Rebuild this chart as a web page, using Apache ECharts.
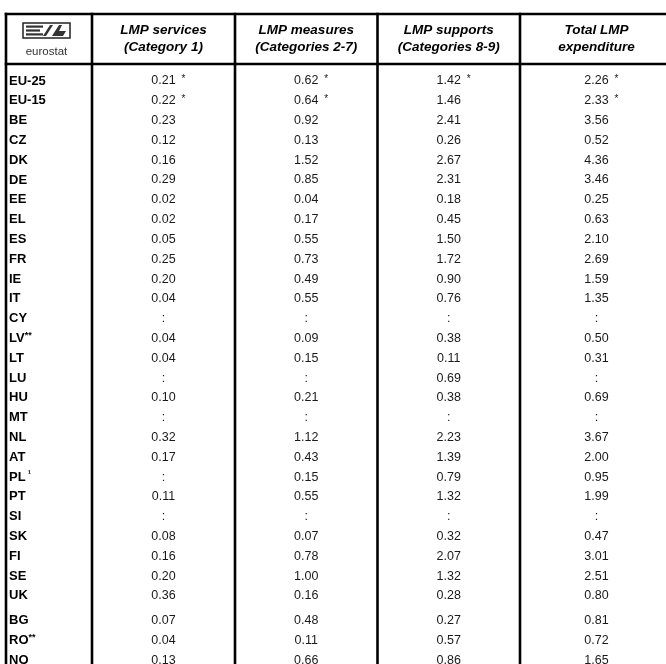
<!DOCTYPE html>
<html><head><meta charset="utf-8">
<script src="https://cdn.jsdelivr.net/npm/echarts@6/dist/echarts.min.js"></script>
<style>html,body{margin:0;padding:0;background:#fff}#c{width:666px;height:664px}</style>
</head><body><div id="c"></div>
<script>
// ---------- DATA ----------
const headers = ['', 'LMP services\n(Category 1)', 'LMP measures\n(Categories 2-7)', 'LMP supports\n(Categories 8-9)', 'Total LMP\nexpenditure'];
const countries = ['EU-25','EU-15','BE','CZ','DK','DE','EE','EL','ES','FR','IE','IT','CY','LV**','LT','LU','HU','MT','NL','AT','PL ¹','PT','SI','SK','FI','SE','UK','BG','RO**','NO'];
const services = [0.21,0.22,0.23,0.12,0.16,0.29,0.02,0.02,0.05,0.25,0.20,0.04,null,0.04,0.04,null,0.10,null,0.32,0.17,null,0.11,null,0.08,0.16,0.20,0.36,0.07,0.04,0.13];
const measures = [0.62,0.64,0.92,0.13,1.52,0.85,0.04,0.17,0.55,0.73,0.49,0.55,null,0.09,0.15,null,0.21,null,1.12,0.43,0.15,0.55,null,0.07,0.78,1.00,0.16,0.48,0.11,0.66];
const supports = [1.42,1.46,2.41,0.26,2.67,2.31,0.18,0.45,1.50,1.72,0.90,0.76,null,0.38,0.11,0.69,0.38,null,2.23,1.39,0.79,1.32,null,0.32,2.07,1.32,0.28,0.27,0.57,0.86];
const total = [2.26,2.33,3.56,0.52,4.36,3.46,0.25,0.63,2.10,2.69,1.59,1.35,null,0.50,0.31,null,0.69,null,3.67,2.00,0.95,1.99,null,0.47,3.01,2.51,0.80,0.81,0.72,1.65];
const servicesStar = ['EU-25','EU-15'];
const measuresStar = ['EU-25','EU-15'];
const supportsStar = ['EU-25'];
const totalStar = ['EU-25','EU-15'];
const missingMark = ':';
const groupBreakBefore = 'BG';

// ---------- LAYOUT ----------
const colWidths = [86, 143, 142.5, 142.5, 153];
const edges = [0];
colWidths.forEach(w => edges.push(edges[edges.length - 1] + w));
const headerRows = 2.525;
const firstRowOffset = 0.86;
const breakGap = 0.25;
const yMax = 30.3;
const FONT = "'Liberation Sans', Arial, Helvetica, sans-serif";

const breakIdx = countries.indexOf(groupBreakBefore);
const rowPos = countries.map((c, i) => i + firstRowOffset + (i >= breakIdx ? breakGap : 0));
const colCenter = c => (edges[c] + edges[c + 1]) / 2;

const columns = [services, measures, supports, total];
const stars = [servicesStar, measuresStar, supportsStar, totalStar];

const cells = [];
countries.forEach((name, r) => {
  cells.push({ col: 0, row: r, text: name, value: [3, rowPos[r]] });
  columns.forEach((arr, k) => {
    const v = arr[r];
    cells.push({
      col: k + 1, row: r,
      text: v == null ? missingMark : v.toFixed(2),
      star: stars[k].indexOf(name) >= 0,
      value: [colCenter(k + 1), rowPos[r]]
    });
  });
});

const headerCells = headers.map((h, c) => ({ col: c, text: h, value: [colCenter(c), -headerRows / 2] }));
const vLines = edges.slice(0, 5).map(e => ({ kind: 'v', value: [e, 0] }));
const hLines = [-headerRows, 0].map(y => ({ kind: 'h', value: [0, y] }));

function renderBody(params, api) {
  const cell = cells[params.dataIndex];
  const p = api.coord([api.value(0), api.value(1)]);
  if (cell.col === 0) {
    const m = cell.text.match(/^([A-Z0-9-]+)(.*)$/);
    const main = m[1], rest = m[2];
    const txt = rest ? '{b|' + main + '}{s|' + rest + '}' : '{b|' + main + '}';
    return {
      type: 'text', x: p[0], y: p[1],
      style: {
        text: txt, align: 'left', verticalAlign: 'middle', fill: '#000',
        rich: {
          b: { fontFamily: FONT, fontWeight: 'bold', fontSize: 13, fill: '#000', lineHeight: 15 },
          s: { fontFamily: FONT, fontWeight: 'bold', fontSize: 9, fill: '#000', verticalAlign: 'top', lineHeight: 10 }
        }
      }
    };
  }
  const children = [{
    type: 'text', x: p[0], y: p[1],
    style: { text: cell.text, align: 'center', verticalAlign: 'middle', fill: '#1a1a1a',
      font: '12.5px ' + FONT }
  }];
  if (cell.star) {
    children.push({
      type: 'text', x: p[0] + 18, y: p[1] - 2,
      style: { text: '*', align: 'left', verticalAlign: 'middle', fill: '#1a1a1a', font: '10px ' + FONT }
    });
  }
  return { type: 'group', children };
}

function renderHeader(params, api) {
  const cell = headerCells[params.dataIndex];
  const p = api.coord([api.value(0), api.value(1)]);
  if (cell.col === 0) {
    const x0 = p[0] - 26, y0 = p[1] - 16;
    return {
      type: 'group',
      children: [
        { type: 'rect', shape: { x: x0, y: y0, width: 47, height: 15 }, style: { fill: 'none', stroke: '#222', lineWidth: 1.5 } },
        { type: 'rect', shape: { x: x0 + 3, y: y0 + 2.5, width: 17, height: 2.2 }, style: { fill: '#333' } },
        { type: 'rect', shape: { x: x0 + 3, y: y0 + 6.4, width: 14, height: 2.2 }, style: { fill: '#333' } },
        { type: 'rect', shape: { x: x0 + 3, y: y0 + 10.3, width: 17, height: 2.2 }, style: { fill: '#333' } },
        { type: 'polygon', shape: { points: [[x0 + 20, y0 + 13], [x0 + 23, y0 + 13], [x0 + 30, y0 + 2], [x0 + 27, y0 + 2]] }, style: { fill: '#333' } },
        { type: 'polygon', shape: { points: [[x0 + 29, y0 + 13], [x0 + 40, y0 + 13], [x0 + 43, y0 + 8], [x0 + 36, y0 + 8], [x0 + 39, y0 + 2], [x0 + 36, y0 + 2]] }, style: { fill: '#333' } },
        { type: 'text', x: p[0] - 2.5, y: p[1] + 13, style: { text: 'eurostat', align: 'center', verticalAlign: 'middle', fill: '#333', font: '11.5px ' + FONT } }
      ]
    };
  }
  return {
    type: 'text', x: p[0], y: p[1],
    style: { text: cell.text, align: 'center', verticalAlign: 'middle', fill: '#000',
      font: 'italic bold 13.5px ' + FONT, lineHeight: 16.5 }
  };
}

function renderLines(params, api) {
  const d = params.dataIndex < vLines.length ? vLines[params.dataIndex] : hLines[params.dataIndex - vLines.length];
  if (d.kind === 'v') {
    const a = api.coord([d.value[0], -headerRows]);
    const b = api.coord([d.value[0], yMax]);
    return { type: 'line', shape: { x1: a[0], y1: a[1] - 1.25, x2: b[0], y2: b[1] }, style: { stroke: '#000', lineWidth: 2.6 } };
  }
  const a = api.coord([0, d.value[1]]);
  const b = api.coord([edges[5], d.value[1]]);
  return { type: 'line', shape: { x1: a[0] - 1.3, y1: a[1], x2: b[0], y2: b[1] }, style: { stroke: '#000', lineWidth: 2.6 } };
}

const chart = echarts.init(document.getElementById('c'));
chart.setOption({
  backgroundColor: '#fff',
  animation: false,
  grid: { left: 6, right: 0, top: 14, bottom: 0, containLabel: false },
  xAxis: { type: 'value', min: 0, max: 660, show: false, splitLine: { show: false } },
  yAxis: { type: 'value', min: -headerRows, max: yMax, inverse: true, show: false, splitLine: { show: false } },
  tooltip: { show: false },
  series: [
    { type: 'custom', name: 'lines', coordinateSystem: 'cartesian2d', renderItem: renderLines,
      data: vLines.concat(hLines).map(d => d.value), silent: true, clip: false },
    { type: 'custom', name: 'header', coordinateSystem: 'cartesian2d', renderItem: renderHeader,
      data: headerCells.map(d => d.value), silent: true, clip: false },
    { type: 'custom', name: 'body', coordinateSystem: 'cartesian2d', renderItem: renderBody,
      data: cells.map(d => d.value), silent: true, clip: false }
  ]
});
</script>
</body></html>
